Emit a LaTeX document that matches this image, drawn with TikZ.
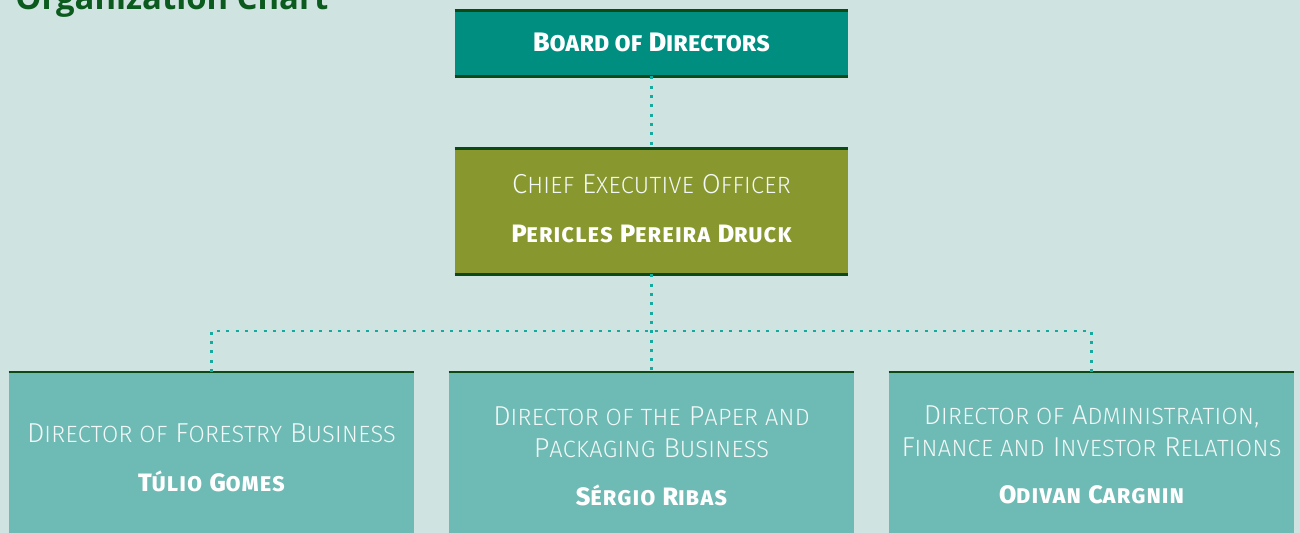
\documentclass[tikz,border=0pt]{standalone}
\usepackage{fontspec}
\setmainfont{Fira Sans}
\newfontfamily\lightf{Fira Sans Light}[LetterSpace=1.5]
\newfontfamily\heavyf{Fira Sans ExtraBold}[LetterSpace=7]
\newfontfamily\boardf{Fira Sans ExtraBold}[LetterSpace=2.5]
\newfontfamily\headf{Open Sans}
\definecolor{bg}{HTML}{CFE4E0}
\definecolor{boardc}{HTML}{008E81}
\definecolor{ceoc}{HTML}{89972F}
\definecolor{dirc}{HTML}{6EBAB4}
\definecolor{edgec}{HTML}{0B4A16}
\definecolor{dotc}{HTML}{14AA9F}
\definecolor{headc}{HTML}{0B5A1E}
\definecolor{txtc}{HTML}{F2F8F7}
\def\smsize{13.4}
\newcommand\sm[1]{{\fontsize{\smsize}{\smsize}\selectfont #1}}
\tikzset{
  orgbox/.style={rectangle, inner sep=0pt, minimum width=7.86cm, draw=none},
  dirbox/.style={rectangle, inner sep=0pt, minimum width=8.1cm, minimum height=4cm, anchor=north, fill=dirc, draw=none},
  edgeline/.style={draw=edgec, line width=1.5pt},
  dots/.style={draw=dotc, line width=1.7pt, dash pattern=on 1.7pt off 3.6pt},
  titletxt/.style={anchor=base, inner sep=0pt, text=txtc, font=\lightf\fontsize{15.6}{18}\selectfont\def\smsize{13.4}},
  nametxt/.style={anchor=base, inner sep=0pt, text=white, font=\heavyf\fontsize{14.3}{16}\selectfont\def\smsize{12.1}},
  boardtxt/.style={anchor=base, inner sep=0pt, text=white, font=\boardf\fontsize{15.2}{18}\selectfont\def\smsize{12.9}},
}
\begin{document}
\begin{tikzpicture}[x=0.02cm,y=-0.02cm]
\path[use as bounding box, fill=bg] (0,0) rectangle (1300,533);
\node[anchor=base west, inner sep=0pt, text=headc, font=\headf\bfseries\fontsize{18.7}{22}\selectfont] (title) at (15,10) {Organization Chart};
% boxes
\node[orgbox, fill=boardc, minimum height=1.3cm] (board) at (651.5,43.5) {};
\node[orgbox, fill=ceoc, minimum height=2.5cm] (ceo) at (651.5,211.5) {};
\node[dirbox] (d1) at (211.5,372) {};
\node[dirbox] (d2) at (651.5,372) {};
\node[dirbox] (d3) at (1091.5,372) {};
% borders
\draw[edgeline] (board.north west) -- (board.north east);
\draw[edgeline] (board.south west) -- (board.south east);
\draw[edgeline] (ceo.north west) -- (ceo.north east);
\draw[edgeline] (ceo.south west) -- (ceo.south east);
\draw[edgeline] (d1.north west) -- (d1.north east);
\draw[edgeline] (d2.north west) -- (d2.north east);
\draw[edgeline] (d3.north west) -- (d3.north east);
% connectors
\coordinate (bus) at (651.5,331);
\draw[dots] (board.south) -- (ceo.north);
\draw[dots] (ceo.south) -- (d2.north);
\draw[dots] (d1.north) -- (d1.north |- bus) -- (d3.north |- bus) -- (d3.north);
% texts
\node[boardtxt] (boardt) at (651.5,52) {B\sm{OARD OF} D\sm{IRECTORS}};
\node[titletxt] (ceot) at (651.5,194) {C\sm{HIEF} E\sm{XECUTIVE} O\sm{FFICER}};
\node[nametxt] (ceon) at (651.5,243) {P\sm{ERICLES} P\sm{EREIRA} D\sm{RUCK}};
\node[titletxt] (d1t) at (211.5,442) {D\sm{IRECTOR OF} F\sm{ORESTRY} B\sm{USINESS}};
\node[nametxt] (d1n) at (211.5,491) {T\sm{ÚLIO} G\sm{OMES}};
\node[titletxt] (d2t) at (651.5,425) {D\sm{IRECTOR OF THE} P\sm{APER AND}};
\node[titletxt] (d2u) at (651.5,457) {P\sm{ACKAGING} B\sm{USINESS}};
\node[nametxt] (d2n) at (651.5,505) {S\sm{ÉRGIO} R\sm{IBAS}};
\node[titletxt] (d3t) at (1091.5,424) {D\sm{IRECTOR OF} A\sm{DMINISTRATION,}};
\node[titletxt] (d3u) at (1091.5,456) {F\sm{INANCE AND} I\sm{NVESTOR} R\sm{ELATIONS}};
\node[nametxt] (d3n) at (1091.5,503) {O\sm{DIVAN} C\sm{ARGNIN}};
\end{tikzpicture}
\end{document}
